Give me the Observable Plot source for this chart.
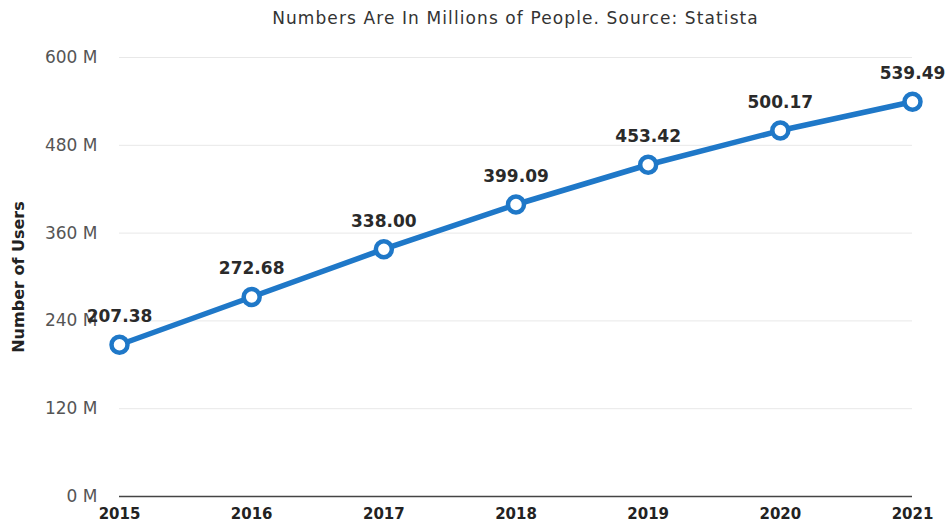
<!DOCTYPE html>
<html>
<head>
<meta charset="utf-8">
<script src="https://cdn.jsdelivr.net/npm/d3@7"></script>
<script src="https://cdn.jsdelivr.net/npm/@observablehq/plot@0.6"></script>
<style>
  body { margin: 0; background: #fff; font-family: "DejaVu Sans", sans-serif; }
  #title { height: 36px; line-height: 36px; text-align: center; font-size: 17px; letter-spacing: 1.1px; color: #333; padding-left: 82px; font-family: "DejaVu Sans", sans-serif; }
</style>
</head>
<body>
<div id="title">Numbers Are In Millions of People. Source: Statista</div>
<div id="chart"></div>
<script>
const years = [2015, 2016, 2017, 2018, 2019, 2020, 2021];
const users = [207.38, 272.68, 338.00, 399.09, 453.42, 500.17, 539.49];
const yTicks = [0, 120, 240, 360, 480, 600];

const data = years.map((y, i) => ({ year: y, users: users[i] }));

const chart = Plot.plot({
  width: 949,
  height: 493,
  marginLeft: 119,
  marginRight: 37,
  marginTop: 21,
  marginBottom: 33,
  style: { fontFamily: "DejaVu Sans, sans-serif", background: "#fff" },
  x: { domain: [2015, 2021], ticks: years, tickFormat: d => String(d), label: null, tickSize: 0 },
  y: { domain: [0, 600], ticks: yTicks, tickFormat: d => d + " M", label: null, tickSize: 0 },
  marks: [
    Plot.ruleY(yTicks.filter(d => d > 0), { stroke: "#e8e8e8", strokeWidth: 1 }),
    Plot.ruleY([0], { stroke: "#444", strokeWidth: 1.5 }),
    Plot.axisY({ ticks: yTicks, tickFormat: d => d + " M", tickSize: 0, tickPadding: 22, fontSize: 17, fill: "#555", label: null }),
    Plot.axisX({ ticks: years, tickFormat: d => String(d), tickSize: 0, tickPadding: 12, fontSize: 15, fontWeight: "bold", fill: "#222", label: null }),
    Plot.text(["Number of Users"], { frameAnchor: "left", textAnchor: "middle", rotate: -90, dx: -101, fontSize: 16, fontWeight: "bold", fill: "#222" }),
    Plot.line(data, { x: "year", y: "users", stroke: "#1f78c8", strokeWidth: 5.5 }),
    Plot.dot(data, { x: "year", y: "users", r: 8, fill: "#fff", stroke: "#1f78c8", strokeWidth: 4.5 }),
    Plot.text(data, { x: "year", y: "users", text: d => d.users.toFixed(2), dy: -28, fontSize: 17, fontWeight: "bold", fill: "#2a2a2a" })
  ]
});
document.getElementById("chart").appendChild(chart);
</script>
</body>
</html>
